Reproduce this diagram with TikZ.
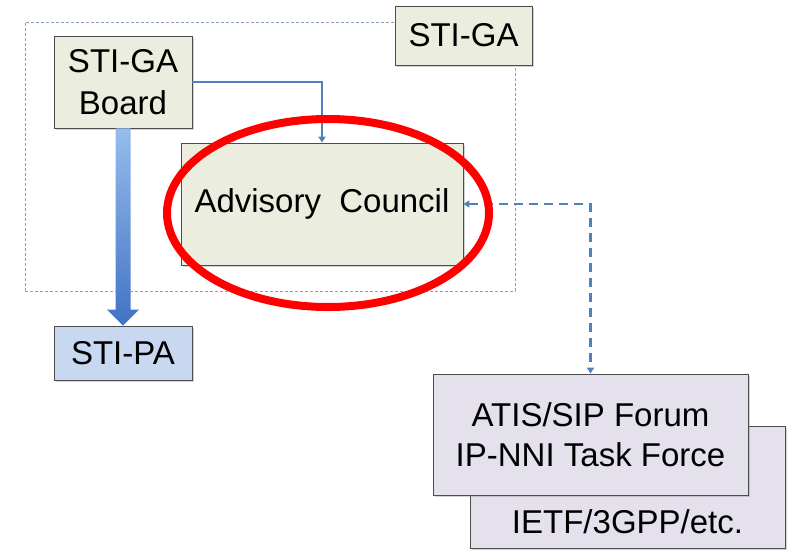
\documentclass[tikz,border=0pt]{standalone}
\usepackage{fontspec}
\setmainfont{Liberation Sans}
\usetikzlibrary{shapes.geometric,shadows,arrows.meta}

\definecolor{boxgreen}{RGB}{235,237,222}
\definecolor{boxblue}{RGB}{200,216,240}
\definecolor{boxlav}{RGB}{228,224,236}
\definecolor{linkblue}{RGB}{79,129,189}
\definecolor{groupline}{RGB}{140,160,188}
\definecolor{arrowtop}{RGB}{150,188,236}
\definecolor{arrowbot}{RGB}{66,114,196}

\begin{document}
\begin{tikzpicture}[x=1pt,y=-1pt,
	box/.style={draw=black!70, line width=0.8pt, fill=boxgreen, inner sep=0pt,
		align=center, font=\fontsize{33}{42}\selectfont,
		drop shadow={shadow xshift=2pt, shadow yshift=-2pt, opacity=0.35}},
	link/.style={draw=linkblue, line width=2pt, -{Triangle[width=7pt,length=6pt]}},
	grp/.style={draw=groupline, line width=0.6pt, dash pattern=on 3pt off 2pt}]
	\useasboundingbox (0,0) rectangle (795,550);
	% dashed STI-GA area
	\node (area) [grp, minimum width=490, minimum height=269] at (270,156.5) {};
	\node (galabel) [box, minimum width=137, minimum height=59] at (463.5,35.5) {STI-GA};
	\node (board) [box, minimum width=138, minimum height=92] at (123,82) {STI-GA\\Board};
	\node (council) [box, minimum width=282, minimum height=122] at (322,204) {Advisory\ \ Council};
	\node (stipa) [box, fill=boxblue, minimum width=138, minimum height=54] at (123,353) {STI-PA};
	\node (ietf) [box, fill=boxlav, minimum width=315, minimum height=122] at (627.5,487) {};
	\node [font=\fontsize{33}{42}\selectfont, anchor=base, inner sep=0pt] at ([yshift=15pt]ietf.south) {IETF/3GPP/etc.};
	\node (atis) [box, fill=boxlav, minimum width=315, minimum height=121, font=\fontsize{33}{40}\selectfont] at (590.5,434.5) {ATIS/SIP Forum\\IP-NNI Task Force};

	\draw[link] (board.east) -| (council.north);
	\draw[link, line width=2.6pt, dash pattern=on 9pt off 6pt, {Triangle[width=7pt,length=6pt]}-{Triangle[width=7pt,length=6pt]}] (council.east) -| (atis.north);

	% thick arrow board -> STI-PA
	\shade[top color=arrowtop, bottom color=arrowbot]
		([xshift=-7.5pt]board.south) -- ([xshift=7.5pt]board.south)
		-- ([xshift=7.5pt,yshift=16pt]stipa.north) -- ([xshift=16pt,yshift=16pt]stipa.north)
		-- (stipa.north) -- ([xshift=-16pt,yshift=16pt]stipa.north)
		-- ([xshift=-7.5pt,yshift=16pt]stipa.north) -- cycle;

	\node (ring) [ellipse, draw=red, line width=8pt, minimum width=322, minimum height=188, inner sep=0pt] at (328,213) {};
\end{tikzpicture}
\end{document}
